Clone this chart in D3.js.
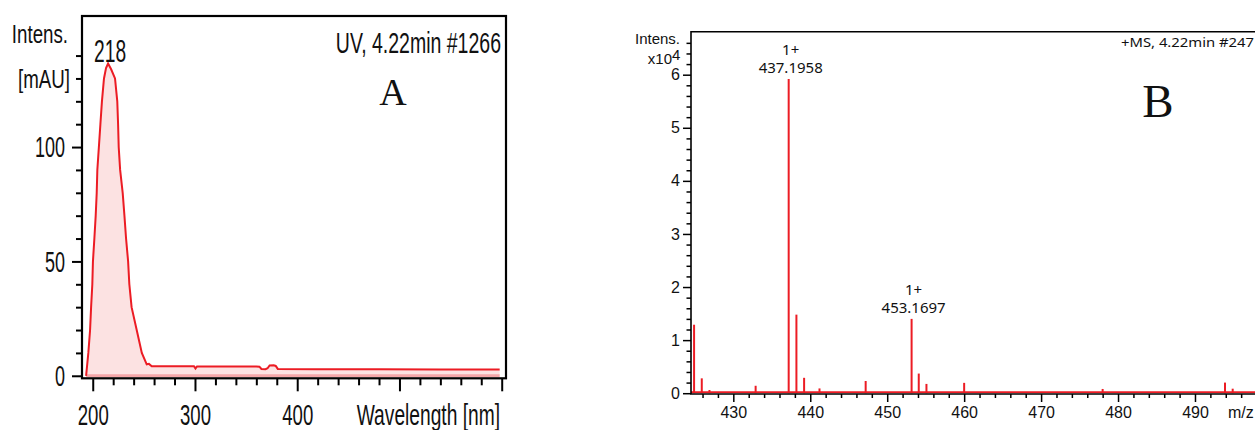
<!DOCTYPE html>
<html>
<head>
<meta charset="utf-8">
<script src="https://cdn.jsdelivr.net/npm/d3@7"></script>
<style>
body { margin: 0; background: #fff; }
svg { display: block; }
text { font-family: "Liberation Sans", Arial, sans-serif; fill: #111; }
</style>
</head>
<body>
<div class="chart"></div>
<script>
// Panel A - UV spectrum (wavelength nm / intensity mAU)
const uvWavelength = [193.5, 195.7, 197.4, 198.4, 199.6, 200.2, 201.6, 202.9, 203.9, 204.5, 206, 207.5, 209, 211, 213, 215,
    218, 221.8, 224, 224.8, 225.4, 226.8, 229.3, 231, 232.6, 234.6, 235.8, 238, 243, 248, 252.8, 255, 257.7,
    270, 290, 299, 300.5, 302, 330, 360, 363, 365, 369, 371, 373, 377, 379, 381, 420, 480, 540, 598];
const uvIntensity = [0, 10, 20, 30, 40, 50, 60, 70, 80, 90, 100, 110, 120, 130, 134.5, 136.5,
    134, 130, 120, 110, 100, 90, 80, 70, 60, 50, 40, 30, 20, 10, 5, 5.2, 4.2,
    4.2, 4.2, 4.2, 3.2, 4.1, 4.1, 4.1, 4.0, 3.0, 2.9, 3.3, 4.5, 4.6, 4.3, 3.0, 2.9, 2.9, 2.8, 2.8];
const uvYMajor = [0, 50, 100];
const uvXMajor = [200, 300, 400, 500, 600];
const uvXLabels = [200, 300, 400];
const uvPeakLabel = '218';
const uvPeakAt = 217;

// Panel B - mass spectrum (m/z / intensity x10^4)
const msMz = [424.9, 425.9, 426.9, 432.9, 437.1958, 438.2, 439.2, 441.2, 447.2, 453.1697, 454.1, 455.1, 460.0, 478.0, 493.9, 494.9];
const msIntensity = [1.29, 0.28, 0.06, 0.14, 5.92, 1.48, 0.29, 0.09, 0.23, 1.40, 0.37, 0.175, 0.195, 0.08, 0.2, 0.085];
const msLabelled = [437.1958, 453.1697];
const msCharge = ['1+', '1+'];
const msXMajor = [430, 440, 450, 460, 470, 480, 490];
const msYMajor = [0, 1, 2, 3, 4, 5, 6];
const msBaseline = 0.02;

const width = 1255, height = 430;
const red = '#ec1c24';

const svg = d3.select('.chart').append('svg')
    .attr('width', width)
    .attr('height', height);

// condensed text like the instrument software export
function narrowText(g, x, y, str, size, k, anchor) {
    return g.append('text')
        .attr('transform', `translate(${x},${y}) scale(${k},1)`)
        .attr('text-anchor', anchor)
        .style('font-size', size + 'px')
        .text(str);
}

// ================= Panel A =================
const ax = d3.scaleLinear().domain([189.5, 604.2]).range([82, 506]);
const ay = d3.scaleLinear().domain([-1.1, 157.3]).range([378.3, 16]);
const uvData = uvWavelength.map((w, i) => [w, uvIntensity[i]]);

const gA = svg.append('g');

gA.append('path')
    .datum(uvData)
    .attr('d', d3.area().x(d => ax(d[0])).y0(ay(0)).y1(d => ay(d[1])))
    .attr('fill', '#fce2e2');

gA.append('line')
    .attr('x1', ax(uvWavelength[0])).attr('x2', ax(uvWavelength[uvWavelength.length - 1]))
    .attr('y1', ay(0)).attr('y2', ay(0))
    .attr('stroke', '#f4a6a8').attr('stroke-width', 3);

gA.append('path')
    .datum(uvData)
    .attr('d', d3.line().x(d => ax(d[0])).y(d => ay(d[1])))
    .attr('fill', 'none')
    .attr('stroke', red)
    .attr('stroke-width', 2);

// y axis A
const ayMajor = gA.append('g').attr('transform', 'translate(82,0)')
    .call(d3.axisLeft(ay).tickValues(uvYMajor).tickSize(10).tickPadding(7));
ayMajor.selectAll('text')
    .style('font-size', '30px')
    .attr('x', -17 / 0.6)
    .attr('transform', 'scale(0.6,1)');
gA.append('g').attr('transform', 'translate(82,0)')
    .call(d3.axisLeft(ay).tickValues(d3.range(10, 160, 10).filter(v => v % 50 != 0)).tickSize(6).tickFormat(''));

// x axis A
const axMajor = gA.append('g').attr('transform', 'translate(0,378.3)')
    .call(d3.axisBottom(ax).tickValues(uvXMajor).tickSize(13).tickPadding(12)
        .tickFormat(d => uvXLabels.includes(d) ? d : ''));
axMajor.selectAll('text')
    .style('font-size', '30px')
    .attr('transform', 'scale(0.62,1)');
gA.append('g').attr('transform', 'translate(0,378.3)')
    .call(d3.axisBottom(ax).tickValues(d3.range(220, 600, 20).filter(v => v % 100 != 0)).tickSize(7).tickFormat(''));

gA.selectAll('.domain').remove();
gA.selectAll('.tick line').attr('stroke', '#000').attr('stroke-width', 2);

gA.append('rect')
    .attr('x', 82).attr('y', 16)
    .attr('width', 424).attr('height', 362.3)
    .attr('fill', 'none').attr('stroke', '#000').attr('stroke-width', 2.2);

narrowText(gA, 68, 43, 'Intens.', 26, 0.72, 'end');
narrowText(gA, 70, 88, '[mAU]', 26, 0.72, 'end');
narrowText(gA, ax(uvPeakAt), 61.7, uvPeakLabel, 31, 0.62, 'middle');
narrowText(gA, 501, 53, 'UV, 4.22min #1266', 30, 0.65, 'end');
narrowText(gA, 500, 425, 'Wavelength [nm]', 30, 0.64, 'end');
gA.append('text')
    .attr('x', 393).attr('y', 105)
    .attr('text-anchor', 'middle')
    .style('font-family', '"Liberation Serif", "Times New Roman", serif')
    .style('font-size', '38px')
    .text('A');

// ================= Panel B =================
const bx = d3.scaleLinear().domain([424.5, 497.8]).range([691, 1255]);
const by = d3.scaleLinear().domain([-0.015, 6.81]).range([394, 31.7]);

const gB = svg.append('g');

gB.append('line')
    .attr('x1', bx.range()[0]).attr('x2', bx.range()[1])
    .attr('y1', by(msBaseline)).attr('y2', by(msBaseline))
    .attr('stroke', red).attr('stroke-width', 1.6);

gB.selectAll('.peak')
    .data(msMz)
    .enter()
    .append('line')
    .attr('class', 'peak')
    .attr('x1', d => bx(d)).attr('x2', d => bx(d))
    .attr('y1', by(0))
    .attr('y2', (d, i) => by(msIntensity[i]))
    .attr('stroke', red)
    .attr('stroke-width', 2);

// frame: top and left lines
gB.append('path')
    .attr('d', `M${bx.range()[1]},${by.range()[1]}H${bx.range()[0]}V${by.range()[0]}H${bx.range()[1]}`)
    .attr('fill', 'none').attr('stroke', '#000').attr('stroke-width', 1.6);

const byMajor = gB.append('g').attr('transform', 'translate(691,0)')
    .call(d3.axisLeft(by).tickValues(msYMajor).tickSize(8).tickPadding(3).tickFormat(d3.format('d')));
gB.append('g').attr('transform', 'translate(691,0)')
    .call(d3.axisLeft(by).tickValues(d3.range(0.2, 6.8, 0.2).filter(v => Math.abs(v - Math.round(v)) > 0.05)).tickSize(4.5).tickFormat(''));

const bxMajor = gB.append('g').attr('transform', 'translate(0,394)')
    .call(d3.axisBottom(bx).tickValues(msXMajor).tickSize(8).tickPadding(4.5).tickFormat(d3.format('d')));
gB.append('g').attr('transform', 'translate(0,394)')
    .call(d3.axisBottom(bx).tickValues(d3.range(426, 498, 2).filter(v => v % 10 != 0)).tickSize(4).tickFormat(''));

gB.selectAll('.domain').remove();
gB.selectAll('.tick line').attr('stroke', '#000').attr('stroke-width', 1.5);
gB.selectAll('.tick text').style('font-size', '16px').style('font-family', '"Liberation Sans", Arial, sans-serif').attr('fill', '#111');

gB.append('text').attr('x', 680).attr('y', 44).attr('text-anchor', 'end')
    .style('font-size', '15px').text('Intens.');
gB.append('text').attr('x', 672).attr('y', 64).attr('text-anchor', 'end')
    .style('font-size', '15px').text('x10');
gB.append('text').attr('x', 672).attr('y', 59.5)
    .style('font-size', '15px').text('4');
gB.append('text').attr('x', 1228).attr('y', 418)
    .style('font-size', '16px').text('m/z');

gB.append('text').attr('x', 1254).attr('y', 47).attr('text-anchor', 'end')
    .style('font-family', '"Noto Sans", sans-serif').style('font-size', '13px')
    .attr('textLength', 133).attr('lengthAdjust', 'spacingAndGlyphs')
    .text('+MS, 4.22min #247');

gB.append('text')
    .attr('x', 1158).attr('y', 116.7)
    .attr('text-anchor', 'middle')
    .style('font-family', '"Liberation Serif", "Times New Roman", serif')
    .style('font-size', '47px')
    .text('B');

// peak annotations
msLabelled.forEach((mz, i) => {
    const top = by(msIntensity[msMz.indexOf(mz)]);
    gB.append('text').attr('x', bx(mz) + 2).attr('y', top - 5.5).attr('text-anchor', 'middle')
        .style('font-family', '"Noto Sans", sans-serif').style('font-size', '15px')
        .text(mz.toFixed(4));
    gB.append('text').attr('x', bx(mz) + 2).attr('y', top - 23.5).attr('text-anchor', 'middle')
        .style('font-family', '"Noto Sans", sans-serif').style('font-size', '15px')
        .text(msCharge[i]);
});
</script>
</body>
</html>
